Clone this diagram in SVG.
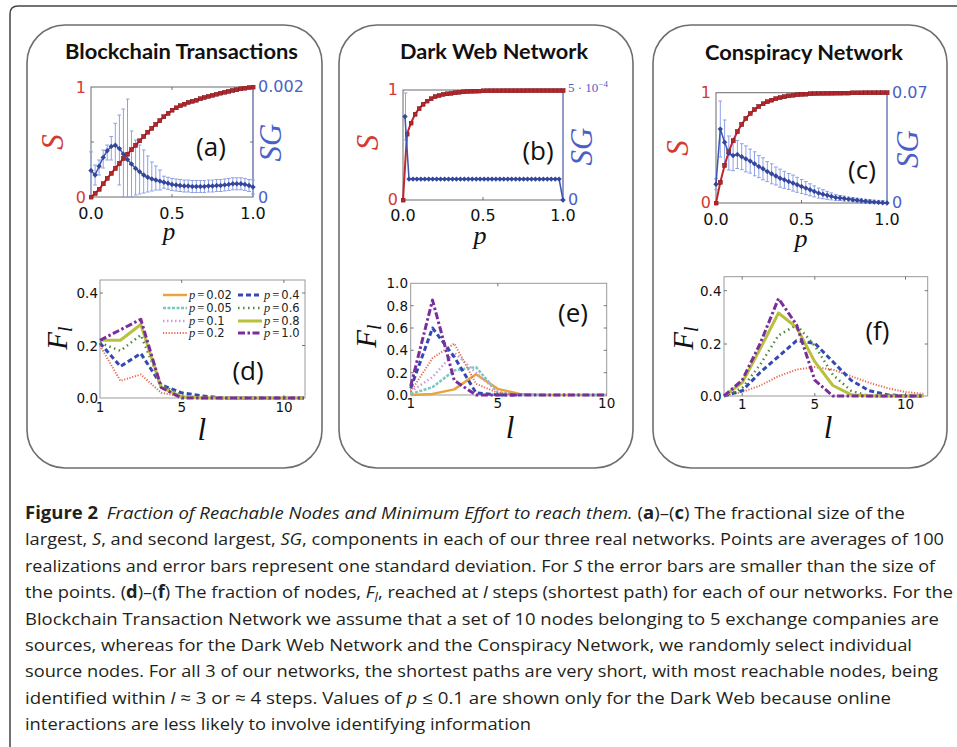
<svg xmlns="http://www.w3.org/2000/svg" width="957" height="747" viewBox="0 0 957 747">
<style>
  .frame{fill:none;stroke:#6e6e6e;stroke-width:1.6}
  .box{fill:none;stroke:#6a6a6a;stroke-width:1}
  .box2{fill:none;stroke:#9a9a9a;stroke-width:1}
  .tk{fill:none;stroke:#555;stroke-width:0.8}
  .title{font-family:Lato,"Open Sans",sans-serif;font-weight:bold;font-size:20px;fill:#111;text-anchor:middle}
  .num{font-family:"DejaVu Sans",sans-serif;font-size:16px;fill:#111}
  .num2{font-family:"DejaVu Sans",sans-serif;font-size:13.5px;fill:#111}
  .red{fill:#d23a32}
  .blue{fill:#4a5fc8}
  .mi{font-family:"Liberation Serif","DejaVu Serif",serif;font-style:italic}
  .plab{font-family:"Open Sans",sans-serif;font-size:26px;fill:#111;text-anchor:middle}
  .cap{font-family:"Open Sans","DejaVu Sans",sans-serif;font-size:17px;fill:#231f20}
  .sline{fill:none;stroke:#c0272d;stroke-width:2;marker-start:url(#sq);marker-mid:url(#sq);marker-end:url(#sq)}
  .gline{fill:none;stroke:#3b55b0;stroke-width:1.5;marker-start:url(#dm);marker-mid:url(#dm);marker-end:url(#dm)}
  .err{fill:none;stroke:#8fa0e6;stroke-width:1;marker-start:url(#cap);marker-mid:url(#cap);marker-end:url(#cap)}
  .rsp{stroke:#6f83d6;stroke-width:1}
  .c{fill:none;stroke-linejoin:round}
  .c02{stroke:#e9a43c;stroke-width:2.5}
  .c05{stroke:#7cc6c0;stroke-width:2.5;stroke-dasharray:3 1.5}
  .c1{stroke:#c8a0d8;stroke-width:2.5;stroke-dasharray:1.5 2.5}
  .c2{stroke:#e46e52;stroke-width:2;stroke-dasharray:1.2 1.6}
  .c4{stroke:#3449b3;stroke-width:3;stroke-dasharray:5 3}
  .c6{stroke:#4b8a3b;stroke-width:2.5;stroke-dasharray:1.5 3.5}
  .c8{stroke:#b8c13d;stroke-width:3}
  .c10{stroke:#7b2e9b;stroke-width:3;stroke-dasharray:7 2.5 2.5 2.5}
  .leg{font-family:"DejaVu Sans",sans-serif;font-size:11.5px;fill:#222}
  .lp{font-family:"Liberation Serif","DejaVu Serif",serif;font-style:italic;font-size:12.5px}
  .eq{font-family:"Liberation Serif","DejaVu Serif",serif;font-size:12.5px}
</style>
<defs>
  <marker id="sq" markerWidth="5" markerHeight="5" refX="2.5" refY="2.5" markerUnits="userSpaceOnUse">
    <rect x="0.4" y="0.4" width="4.2" height="4.2" fill="#b3262b" stroke="#7d1a1e" stroke-width="0.5"/>
  </marker>
  <marker id="dm" markerWidth="6" markerHeight="6" refX="3" refY="3" markerUnits="userSpaceOnUse">
    <path d="M3,0.3L5.7,3L3,5.7L0.3,3Z" fill="#34479a"/>
  </marker>
  <marker id="cap" markerWidth="4" markerHeight="2" refX="2" refY="1" markerUnits="userSpaceOnUse">
    <path d="M0,1H4" stroke="#8fa0e6" stroke-width="1"/>
  </marker>
</defs>
<rect width="957" height="747" fill="#fff"/>

<!-- outer figure frame -->
<path d="M10,747V14Q10,6 18,6H957" fill="none" stroke="#444" stroke-width="1.5"/>

<!-- panel: blockchain -->
<g id="panel-blockchain">
  <rect class="frame" x="27" y="25" width="295" height="443" rx="38"/>
  <text class="title" x="181.5" y="59" textLength="233" lengthAdjust="spacingAndGlyphs">Blockchain Transactions</text>
  <g id="plot-a">
    <rect class="box" x="91" y="87" width="162" height="110"/>
    <line class="rsp" x1="253" y1="87" x2="253" y2="197"/>
    <path class="tk" d="M172,197v-3M172,87v3M91,142h3M253,142h-3"/>
    <path class="err" d="M91,151.9V197M95.1,165V185M99.1,160V175M103.2,150V168M107.2,145V160M111.3,136.5V160M115.3,123.3V170M119.4,115V185M123.4,109V197M127.5,99.1V197M131.5,131V197M135.6,140V195M139.6,145V194M143.7,150V193M147.7,156V192M151.8,162V191M155.8,166V190M159.9,170V190M163.9,176.2V188.2M168,177.3V189.3M172,178.4V190.4M176.1,179V191M180.1,179.5V191.5M184.2,180V192M188.2,180V192M192.3,180.5V192.5M196.3,180.5V192.5M200.4,180.5V192.5M204.4,180.5V192.5M208.5,180V192M212.5,180V192M216.6,179.5V191.5M220.6,179.5V191.5M224.7,178.9V190.9M228.7,178.4V190.4M232.8,177.8V189.8M236.8,177.8V189.8M240.9,177.8V189.8M244.9,178.4V190.4M249,179.5V191.5M253,180V194"/>
    <polyline class="sline" points="91,197 95.1,193.4 99.1,189.3 103.2,183.8 107.2,178.3 111.3,173.4 115.3,168.4 119.4,163.5 123.4,158.5 127.5,154.1 131.5,149.7 135.6,145.3 139.6,140.9 143.7,136.5 147.7,132.1 151.8,128.3 155.8,124.4 159.9,120.6 163.9,116.7 168,113.4 172,110.1 176.1,107.9 180.1,105.7 184.2,104.1 188.2,102.4 192.3,101.3 196.3,100.2 200.4,98.8 204.4,97.5 208.5,96.4 212.5,95.3 216.6,94.2 220.6,93.1 224.7,92.2 228.7,91.4 232.8,90.5 236.8,89.8 240.9,88.9 244.9,88.1 249,87.6 253,87"/>
    <polyline class="gline" points="91,170.6 95.1,175 99.1,166.2 103.2,157.4 107.2,150.8 111.3,146.4 115.3,145.3 119.4,148.6 123.4,154.1 127.5,159.6 131.5,164 135.6,168.4 139.6,171.7 143.7,175 147.7,177.2 151.8,178.9 155.8,180 159.9,181.1 163.9,182.2 168,183.3 172,184.4 176.1,185 180.1,185.5 184.2,186 188.2,186 192.3,186.5 196.3,186.5 200.4,186.5 204.4,186.5 208.5,186 212.5,186 216.6,185.5 220.6,185.5 224.7,184.9 228.7,184.4 232.8,183.8 236.8,183.8 240.9,183.8 244.9,184.4 249,185.5 253,187"/>
    <text class="num red" x="86" y="93" text-anchor="end">1</text>
    <text class="num red" x="86" y="203" text-anchor="end">0</text>
    <text class="num blue" x="258" y="92" font-size="14.3">0.002</text>
    <text class="num blue" x="258" y="203">0</text>
    <text class="num" x="91" y="219" text-anchor="middle">0.0</text>
    <text class="num" x="172" y="219" text-anchor="middle">0.5</text>
    <text class="num" x="253" y="219" text-anchor="middle">1.0</text>
    <text class="mi" x="169" y="240" font-size="25" text-anchor="middle" fill="#111">p</text>
    <text class="mi red" transform="translate(63,142) rotate(-90)" font-size="31" text-anchor="middle">S</text>
    <text class="mi blue" transform="translate(281,142.5) rotate(-90)" font-size="31" text-anchor="middle">SG</text>
    <text class="plab" x="211" y="156">(a)</text>
  </g>
  <g id="plot-d">
    <rect class="box2" x="100" y="280" width="205" height="118"/>
    <path class="tk" d="M100,345.5h3M100,293h3M305,345.5h-3M305,293h-3M181.7,398v-3M283.9,398v-3M181.7,280v3M283.9,280v3"/>
    <polyline class="c c2" points="100,345.5 120.4,380.9 140.8,374.4 161.2,392.8 181.6,396.7 202,398 304,398"/>
    <polyline class="c c4" points="100,342.9 120.4,366.5 140.8,353.4 161.2,384.9 181.6,392.8 202,395.9 222.4,398 304,398"/>
    <polyline class="c c6" points="100,342.9 120.4,350.8 140.8,335 161.2,384.9 181.6,395.4 202,398 304,398"/>
    <polyline class="c c8" points="100,340.3 120.4,340.3 140.8,324.5 161.2,387.5 181.6,396.7 202,398 304,398"/>
    <polyline class="c c10" points="100,340.3 120.4,329.8 140.8,319.3 161.2,387.5 181.6,398 304,398"/>
    <g id="legend-d">
      <line class="c c02" x1="163" y1="295" x2="187" y2="295"/>
      <line class="c c05" x1="163" y1="308" x2="187" y2="308"/>
      <line class="c c1" x1="163" y1="321" x2="187" y2="321"/>
      <line class="c c2" x1="163" y1="333" x2="187" y2="333"/>
      <line class="c c4" x1="238" y1="295" x2="262" y2="295"/>
      <line class="c c6" x1="238" y1="308" x2="262" y2="308"/>
      <line class="c c8" x1="238" y1="321" x2="262" y2="321"/>
      <line class="c c10" x1="238" y1="333" x2="262" y2="333"/>
      <text class="leg" x="189" y="299"><tspan class="lp">p</tspan><tspan class="eq" dx="2">=</tspan><tspan dx="2">0.02</tspan></text>
      <text class="leg" x="189" y="312"><tspan class="lp">p</tspan><tspan class="eq" dx="2">=</tspan><tspan dx="2">0.05</tspan></text>
      <text class="leg" x="189" y="325"><tspan class="lp">p</tspan><tspan class="eq" dx="2">=</tspan><tspan dx="2">0.1</tspan></text>
      <text class="leg" x="189" y="337"><tspan class="lp">p</tspan><tspan class="eq" dx="2">=</tspan><tspan dx="2">0.2</tspan></text>
      <text class="leg" x="264" y="299"><tspan class="lp">p</tspan><tspan class="eq" dx="2">=</tspan><tspan dx="2">0.4</tspan></text>
      <text class="leg" x="264" y="312"><tspan class="lp">p</tspan><tspan class="eq" dx="2">=</tspan><tspan dx="2">0.6</tspan></text>
      <text class="leg" x="264" y="325"><tspan class="lp">p</tspan><tspan class="eq" dx="2">=</tspan><tspan dx="2">0.8</tspan></text>
      <text class="leg" x="264" y="337"><tspan class="lp">p</tspan><tspan class="eq" dx="2">=</tspan><tspan dx="2">1.0</tspan></text>
    </g>
    <text class="num2" x="98" y="298" text-anchor="end">0.4</text>
    <text class="num2" x="98" y="350.5" text-anchor="end">0.2</text>
    <text class="num2" x="98" y="403" text-anchor="end">0.0</text>
    <text class="num2" x="100" y="412" text-anchor="middle">1</text>
    <text class="num2" x="181.7" y="412" text-anchor="middle">5</text>
    <text class="num2" x="284" y="412" text-anchor="middle">10</text>
    <text class="mi" transform="translate(67,338) rotate(-90)" font-size="29" text-anchor="middle" fill="#111">F<tspan font-size="20" dy="5">l</tspan></text>
    <text class="mi" x="201.7" y="440" font-size="31" text-anchor="middle" fill="#111">l</text>
    <text class="plab" x="248" y="380">(d)</text>
  </g>
</g>

<!-- panel: dark web -->
<g id="panel-darkweb">
  <rect class="frame" x="339" y="25" width="294" height="443" rx="38"/>
  <text class="title" x="494" y="59" textLength="188" lengthAdjust="spacingAndGlyphs">Dark Web Network</text>
  <g id="plot-b">
    <rect class="box" x="403" y="90" width="160" height="110"/>
    <line class="rsp" x1="563" y1="90" x2="563" y2="200"/>
    <path class="tk" d="M483,200v-3M483,90v3"/>
    <path class="err" d="M405.5,93V140"/>
    <polyline class="sline" points="403,200 407,134 411,123 415,114.2 419,108.7 423,104.3 427,101 431,98.8 435,96.6 439,95.5 443,94.4 447,93.9 451,93.3 455,92.8 459,92.2 463,91.9 467,91.5 471,91.3 475,91.1 479,91 483,90.9 487,90.8 491,90.8 495,90.8 499,90.8 503,90.7 507,90.7 511,90.7 515,90.7 519,90.7 523,90.7 527,90.6 531,90.6 535,90.6 539,90.6 543,90.6 547,90.6 551,90.6 555,90.6 559,90.6 563,90.6"/>
    <polyline class="gline" points="405,116.6 409,179.1 413,179.1 416.9,179.1 420.9,179.1 424.8,179.1 428.8,179.1 432.7,179.1 436.7,179.1 440.6,179.1 444.6,179.1 448.5,179.1 452.5,179.1 456.4,179.1 460.4,179.1 464.3,179.1 468.3,179.1 472.2,179.1 476.2,179.1 480.1,179.1 484.1,179.1 488,179.1 492,179.1 495.9,179.1 499.9,179.1 503.8,179.1 507.8,179.1 511.7,179.1 515.7,179.1 519.6,179.1 523.6,179.1 527.5,179.1 531.5,179.1 535.4,179.1 539.4,179.1 543.3,179.1 547.3,179.1 551.2,179.1 555.2,179.1 559.1,179.1 563,200"/>
    <text class="num red" x="398" y="95" text-anchor="end">1</text>
    <text class="num red" x="398" y="205" text-anchor="end">0</text>
    <text class="blue" x="568" y="92" font-family="Liberation Serif,serif" font-size="13">5 · 10<tspan font-size="9" dy="-5">−4</tspan></text>
    <text class="num blue" x="568" y="205">0</text>
    <text class="num" x="403" y="220.5" text-anchor="middle">0.0</text>
    <text class="num" x="483" y="220.5" text-anchor="middle">0.5</text>
    <text class="num" x="563" y="220.5" text-anchor="middle">1.0</text>
    <text class="mi" x="480" y="244" font-size="26" text-anchor="middle" fill="#111">p</text>
    <text class="mi red" transform="translate(378,142.5) rotate(-90)" font-size="31" text-anchor="middle">S</text>
    <text class="mi blue" transform="translate(591.5,146.5) rotate(-90)" font-size="31" text-anchor="middle">SG</text>
    <text class="plab" x="538" y="160">(b)</text>
  </g>
  <g id="plot-e">
    <rect class="box2" x="410.7" y="283.3" width="196" height="111.7"/>
    <path class="tk" d="M410.7,305.7h3M410.7,328h3M410.7,350.3h3M410.7,372.7h3M606.7,305.7h-3M606.7,328h-3M606.7,350.3h-3M606.7,372.7h-3M497.8,395v-3M497.8,283.3v3"/>
    <polyline class="c c02" points="410.7,395 432.5,393.9 454.3,389.4 476,374.3 497.8,388.9 519.6,393.9 541.4,395 606.7,395"/>
    <polyline class="c c05" points="410.7,393.9 432.5,387.2 454.3,370.4 476,367.1 497.8,392.8 519.6,395 606.7,395"/>
    <polyline class="c c1" points="410.7,391.6 432.5,377.1 454.3,352.6 476,372.7 497.8,391.6 519.6,395"/>
    <polyline class="c c2" points="410.7,391.6 432.5,358.1 454.3,343.6 476,383.8 497.8,392.8 519.6,395"/>
    <polyline class="c c4" points="410.7,388.3 432.5,328 454.3,357 476,392.8 497.8,395 519.6,395"/>
    <polyline class="c c10" points="410.7,386.1 432.5,300.1 454.3,380.5 476,395 606.7,395"/>
    <text class="num2" x="408" y="288.3" text-anchor="end">1.0</text>
    <text class="num2" x="408" y="310.7" text-anchor="end">0.8</text>
    <text class="num2" x="408" y="333" text-anchor="end">0.6</text>
    <text class="num2" x="408" y="355.3" text-anchor="end">0.4</text>
    <text class="num2" x="408" y="377.7" text-anchor="end">0.2</text>
    <text class="num2" x="408" y="400" text-anchor="end">0.0</text>
    <text class="num2" x="410.7" y="407.5" text-anchor="middle">1</text>
    <text class="num2" x="497.8" y="407.5" text-anchor="middle">5</text>
    <text class="num2" x="606.7" y="407.5" text-anchor="middle">10</text>
    <text class="mi" transform="translate(376,336) rotate(-90)" font-size="29" text-anchor="middle" fill="#111">F<tspan font-size="20" dy="5">l</tspan></text>
    <text class="mi" x="510" y="438" font-size="31" text-anchor="middle" fill="#111">l</text>
    <text class="plab" x="573" y="322">(e)</text>
  </g>
</g>

<!-- panel: conspiracy -->
<g id="panel-conspiracy">
  <rect class="frame" x="653" y="25" width="294" height="443" rx="38"/>
  <text class="title" x="804" y="59.5" textLength="198" lengthAdjust="spacingAndGlyphs">Conspiracy Network</text>
  <g id="plot-c">
    <rect class="box" x="716" y="92.7" width="171" height="110.3"/>
    <line class="rsp" x1="887" y1="92.7" x2="887" y2="203"/>
    <path class="tk" d="M801.5,203v-3M801.5,92.7v3"/>
    <path class="err" d="M716,178.7V189.7M720.3,101V157M724.6,120V164M728.8,136V170M733.1,140.6V170.6M737.4,140.5V168.5M741.7,143.7V169.7M745.9,145.9V171.9M750.2,149.1V173.1M754.5,151.8V175.8M758.8,155.6V177.6M763,157.8V179.8M767.3,161.6V181.6M771.6,163.8V183.8M775.9,167V185M780.1,169.2V187.2M784.4,171.3V188.3M788.7,173.5V189.5M793,175.1V191.1M797.2,177.3V192.3M801.5,179.5V193.5M805.8,181.6V194.6M810.1,183.8V195.8M814.3,185.9V196.9M818.6,188.1V198.1M822.9,189.7V198.7M827.2,191.3V199.3M831.4,192.9V199.9M835.7,194.5V200.5M840,195.5V200.5M844.3,196.1V201.1M848.5,197.1V201.1M852.8,197.7V201.7M857.1,198.2V202.2M861.4,198.8V202.8M865.6,199.3V203M869.9,199.7V203M874.2,200.1V203M878.5,200.4V203M882.7,200.7V203"/>
    <polyline class="sline" points="716,203 720.3,182.3 724.6,165.4 728.8,151.7 733.1,140.7 737.4,131.6 741.7,124.4 745.9,118.4 750.2,113.5 754.5,109.6 758.8,106.5 763,103.8 767.3,101.7 771.6,100.1 775.9,98.7 780.1,97.6 784.4,96.7 788.7,95.9 793,95.2 797.2,94.8 801.5,94.4 805.8,94.1 810.1,93.8 814.3,93.6 818.6,93.5 822.9,93.4 827.2,93.3 831.4,93.2 835.7,93.1 840,93.1 844.3,93 848.5,93 852.8,92.9 857.1,92.9 861.4,92.9 865.6,92.8 869.9,92.8 874.2,92.8 878.5,92.8 882.7,92.7 887,92.7"/>
    <polyline class="gline" points="716,184.2 720.3,129.1 724.6,142.3 728.8,153.4 733.1,155.6 737.4,154.5 741.7,156.7 745.9,158.9 750.2,161.1 754.5,163.8 758.8,166.6 763,168.8 767.3,171.6 771.6,173.8 775.9,176 780.1,178.2 784.4,179.8 788.7,181.5 793,183.1 797.2,184.8 801.5,186.5 805.8,188.1 810.1,189.8 814.3,191.4 818.6,193.1 822.9,194.2 827.2,195.3 831.4,196.4 835.7,197.5 840,198 844.3,198.6 848.5,199.1 852.8,199.7 857.1,200.2 861.4,200.8 865.6,201.3 869.9,201.7 874.2,202.1 878.5,202.4 882.7,202.7 887,203"/>
    <text class="num red" x="711" y="98" text-anchor="end">1</text>
    <text class="num red" x="711" y="208" text-anchor="end">0</text>
    <text class="num blue" x="892" y="98" font-size="14.3">0.07</text>
    <text class="num blue" x="892" y="208">0</text>
    <text class="num" x="716" y="225" text-anchor="middle">0.0</text>
    <text class="num" x="801.5" y="225" text-anchor="middle">0.5</text>
    <text class="num" x="887" y="225" text-anchor="middle">1.0</text>
    <text class="mi" x="801" y="247" font-size="26" text-anchor="middle" fill="#111">p</text>
    <text class="mi red" transform="translate(688,148) rotate(-90)" font-size="31" text-anchor="middle">S</text>
    <text class="mi blue" transform="translate(918,149) rotate(-90)" font-size="31" text-anchor="middle">SG</text>
    <text class="plab" x="862" y="179">(c)</text>
  </g>
  <g id="plot-f">
    <rect class="box2" x="724" y="276.7" width="203.7" height="119.3"/>
    <path class="tk" d="M724,344h3M724,290.7h3M927.7,344h-3M927.7,290.7h-3M742.2,396v-3M814.8,396v-3M905.5,396v-3M742.2,276.7v3M814.8,276.7v3M905.5,276.7v3"/>
    <polyline class="c c2" points="724,396 742.2,392 760.3,385.5 778.5,376.2 796.6,369.6 814.8,367 832.9,369.6 851.1,376.2 869.2,382.8 887.4,388.1 905.5,392 923.7,393.9"/>
    <polyline class="c c4" points="724,396 742.2,390.7 760.3,372.3 778.5,356.5 796.6,340.7 814.8,343.3 832.9,361.7 851.1,380.2 869.2,390.7 887.4,394.7 905.5,396 923.7,396"/>
    <polyline class="c c6" points="724,396 742.2,388.1 760.3,364.4 778.5,335.4 796.6,324.9 814.8,345.9 832.9,374.9 851.1,390.7 869.2,396 923.7,396"/>
    <polyline class="c c8" points="724,396 742.2,382.8 760.3,348.6 778.5,313 796.6,327.5 814.8,361.7 832.9,385.5 851.1,394.7 869.2,396 923.7,396"/>
    <polyline class="c c10" points="724,396 742.2,380.2 760.3,343.3 778.5,298.5 796.6,324.9 814.8,380.2 832.9,396 923.7,396"/>
    <text class="num2" x="721.5" y="295.7" text-anchor="end">0.4</text>
    <text class="num2" x="721.5" y="349" text-anchor="end">0.2</text>
    <text class="num2" x="721.5" y="401" text-anchor="end">0.0</text>
    <text class="num2" x="742.2" y="409" text-anchor="middle">1</text>
    <text class="num2" x="814.8" y="409" text-anchor="middle">5</text>
    <text class="num2" x="905.5" y="409" text-anchor="middle">10</text>
    <text class="mi" transform="translate(693,338) rotate(-90)" font-size="29" text-anchor="middle" fill="#111">F<tspan font-size="20" dy="5">l</tspan></text>
    <text class="mi" x="828" y="438" font-size="31" text-anchor="middle" fill="#111">l</text>
    <text class="plab" x="877.5" y="340">(f)</text>
  </g>
</g>

<!-- caption -->
<g id="caption">
  <text class="cap" x="25" y="519" textLength="880" lengthAdjust="spacingAndGlyphs"><tspan font-weight="bold">Figure 2</tspan><tspan dx="8" font-style="italic">Fraction of Reachable Nodes and Minimum Effort to reach them.</tspan> (<tspan font-weight="bold">a</tspan>)–(<tspan font-weight="bold">c</tspan>) The fractional size of the</text>
  <text class="cap" x="25" y="545.4" textLength="919" lengthAdjust="spacingAndGlyphs">largest, <tspan font-style="italic">S</tspan>, and second largest, <tspan font-style="italic">SG</tspan>, components in each of our three real networks. Points are averages of 100</text>
  <text class="cap" x="25" y="571.8" textLength="910" lengthAdjust="spacingAndGlyphs">realizations and error bars represent one standard deviation. For <tspan font-style="italic">S</tspan> the error bars are smaller than the size of</text>
  <text class="cap" x="25" y="598.2" textLength="928" lengthAdjust="spacingAndGlyphs">the points. (<tspan font-weight="bold">d</tspan>)–(<tspan font-weight="bold">f</tspan>) The fraction of nodes, <tspan font-style="italic">F</tspan><tspan font-style="italic" font-size="12" dy="4">l</tspan><tspan dy="-4">, reached at </tspan><tspan font-style="italic">l</tspan> steps (shortest path) for each of our networks. For the</text>
  <text class="cap" x="25" y="624.6" textLength="914" lengthAdjust="spacingAndGlyphs">Blockchain Transaction Network we assume that a set of 10 nodes belonging to 5 exchange companies are</text>
  <text class="cap" x="25" y="651" textLength="887" lengthAdjust="spacingAndGlyphs">sources, whereas for the Dark Web Network and the Conspiracy Network, we randomly select individual</text>
  <text class="cap" x="25" y="677.4" textLength="913" lengthAdjust="spacingAndGlyphs">source nodes. For all 3 of our networks, the shortest paths are very short, with most reachable nodes, being</text>
  <text class="cap" x="25" y="703.8" textLength="866" lengthAdjust="spacingAndGlyphs">identified within <tspan font-style="italic">l</tspan> ≈ 3 or ≈ 4 steps. Values of <tspan font-style="italic">p</tspan> ≤ 0.1 are shown only for the Dark Web because online</text>
  <text class="cap" x="25" y="730.2" textLength="506" lengthAdjust="spacingAndGlyphs">interactions are less likely to involve identifying information</text>
</g>
</svg>
